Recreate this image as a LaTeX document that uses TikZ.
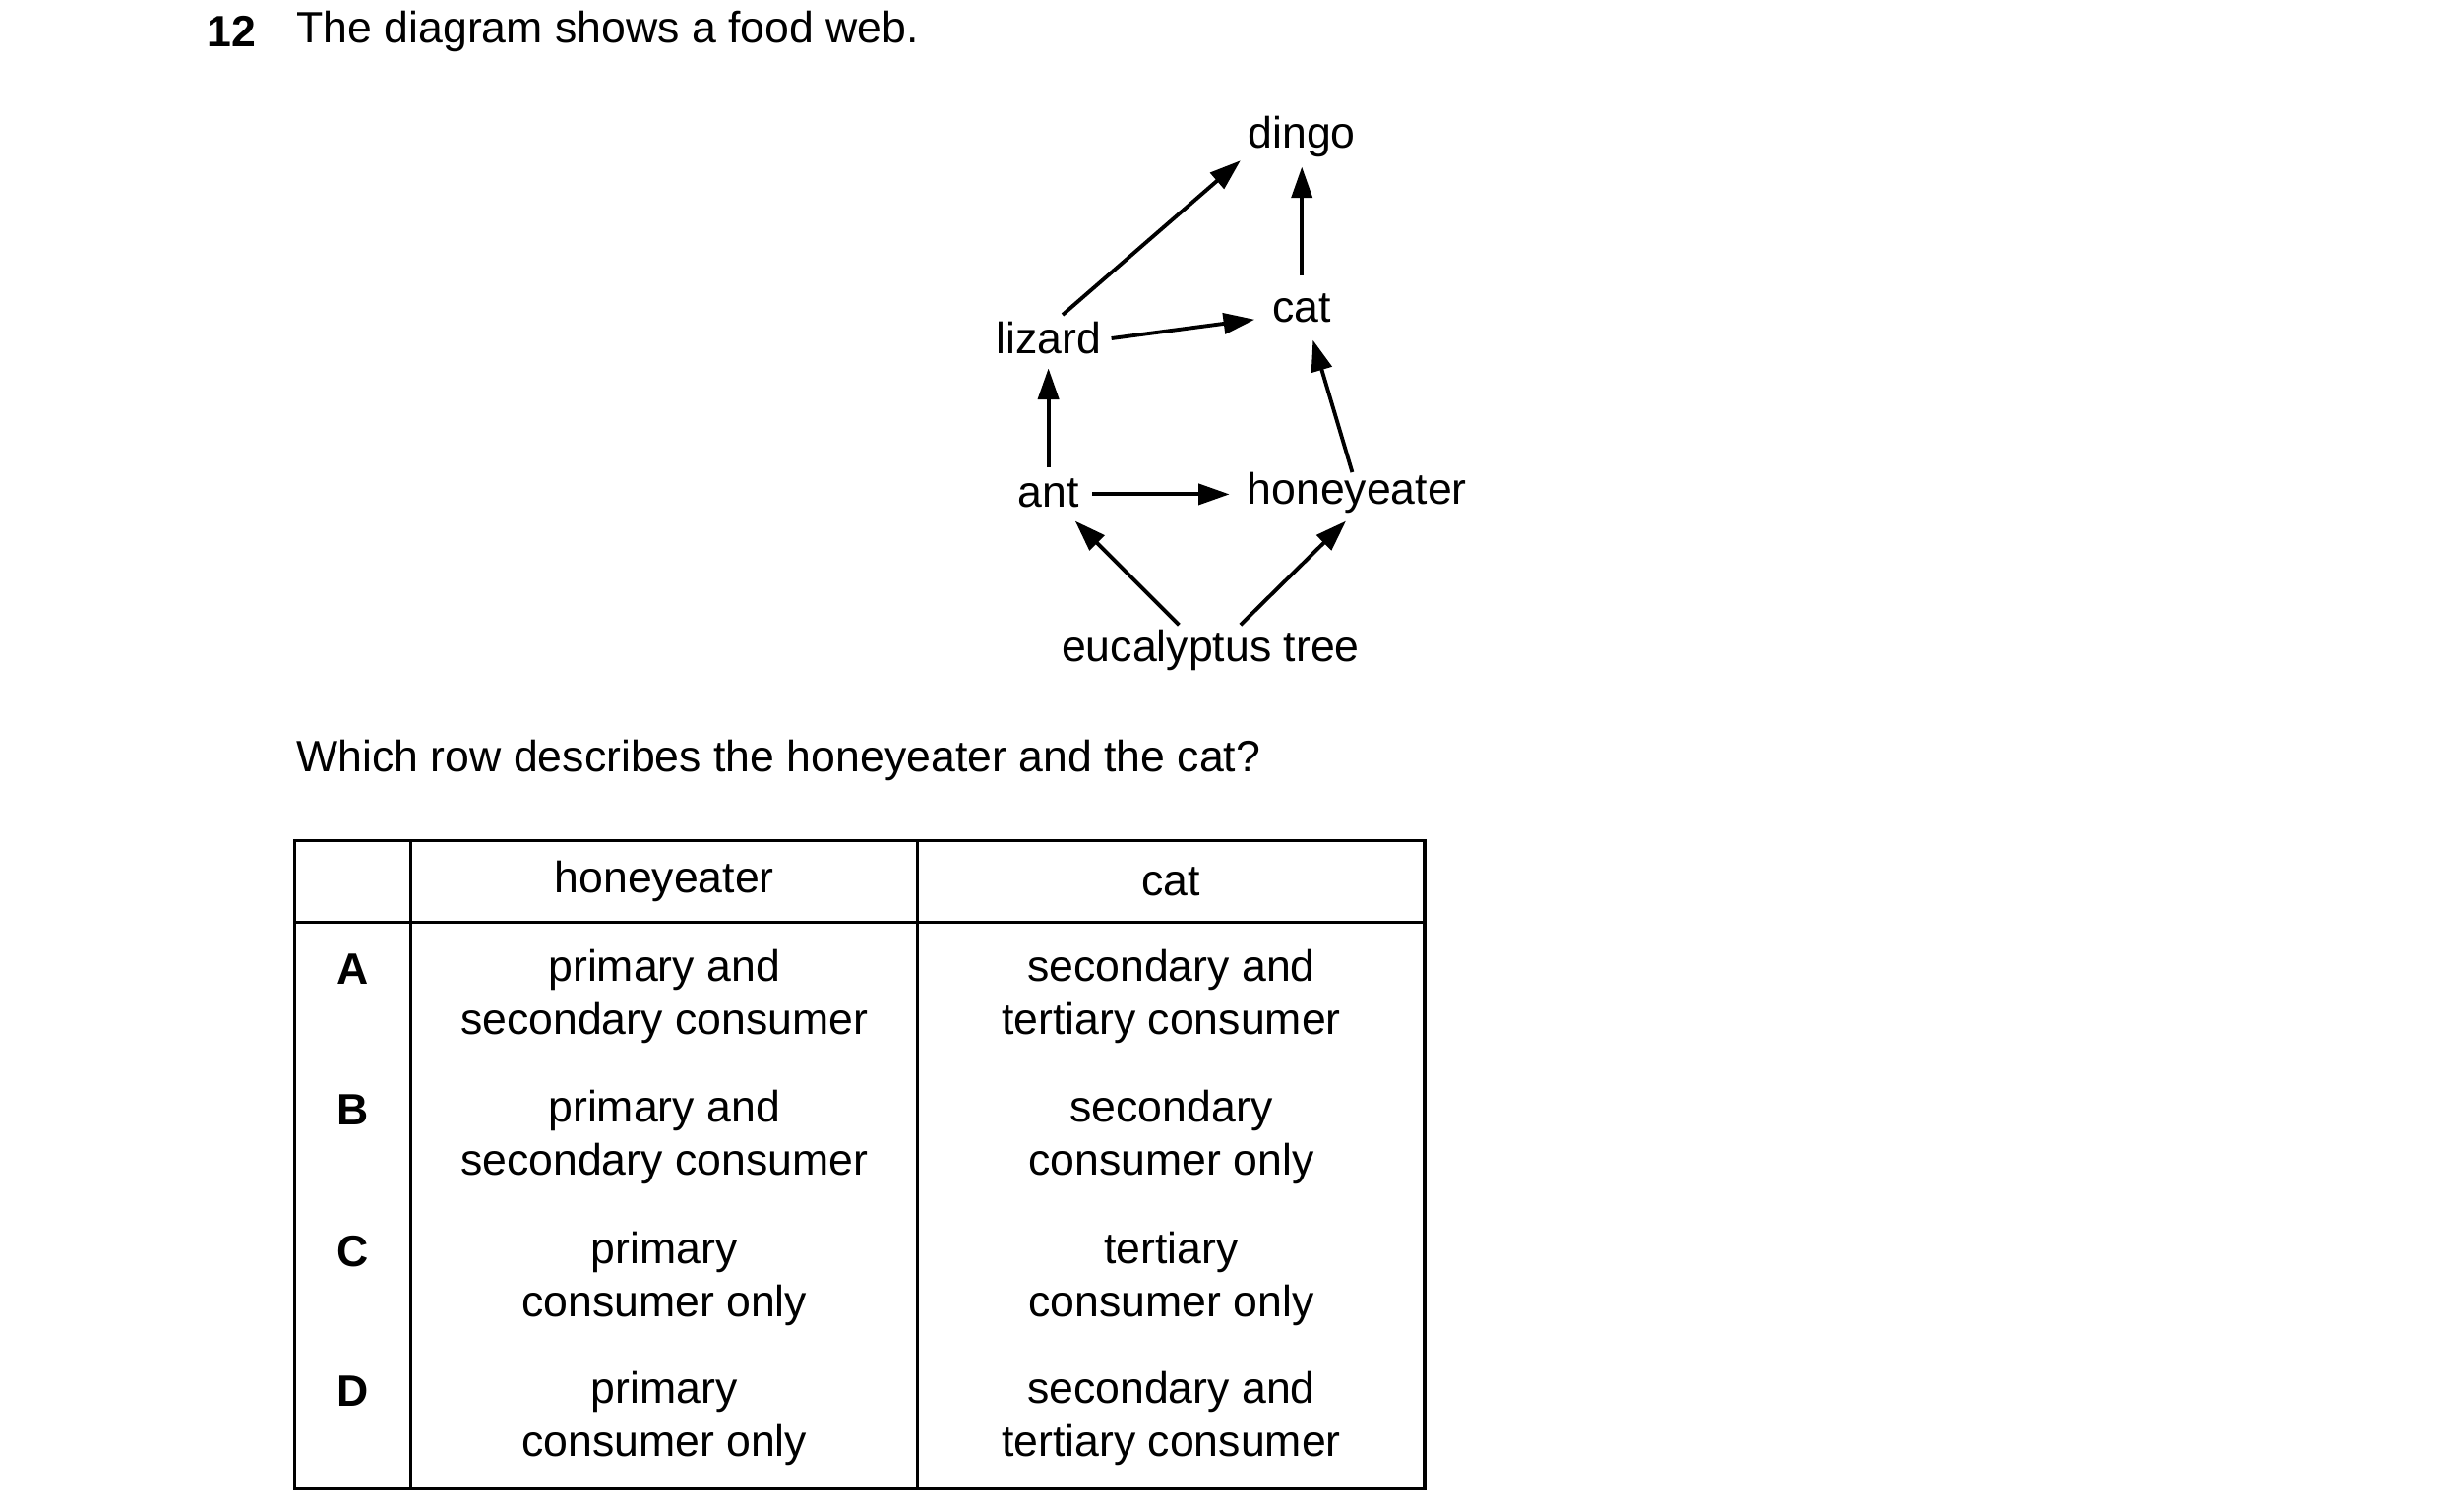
\documentclass[tikz,border=0pt]{standalone}
\usepackage{fontspec}
\setmainfont{Liberation Sans}
\usetikzlibrary{arrows.meta}
\begin{document}
\begin{tikzpicture}[x=0.016cm,y=-0.016cm,
  every node/.style={font=\fontsize{12.7}{15.4}\selectfont,inner sep=0pt},
  org/.style={anchor=center},
  arr/.style={line width=1.1pt,-{Triangle[length=9pt,width=6pt]}},
  cell/.style={align=center,anchor=center}]
\useasboundingbox (0,0) rectangle (1550,960.6);
\node[anchor=west,font=\fontsize{12.7}{15.4}\selectfont\bfseries] (num) at (131,20) {12};
\node[anchor=west] (title) at (188,20) {The diagram shows a food web.};
% food web
\node[org] (dingo) at (827,87) {dingo};
\node[org] (cat) at (827,196) {cat};
\node[org] (lizard) at (666,215) {lizard};
\node[org] (ant) at (666,313) {ant};
\node[org] (honey) at (862,313) {honeyeater};
\node[org] (euc) at (769,413) {eucalyptus tree};
\coordinate (a1) at (675,200); \coordinate (b1) at (788,102);
\coordinate (a2) at (827,175); \coordinate (b2) at (827,106);
\coordinate (a3) at (706,215); \coordinate (b3) at (797,203);
\coordinate (a4) at (666,297); \coordinate (b4) at (666,234);
\coordinate (a5) at (694,314); \coordinate (b5) at (781,314);
\coordinate (a6) at (859,300); \coordinate (b6) at (834,216);
\coordinate (a7) at (749,397); \coordinate (b7) at (683,331);
\coordinate (a8) at (788,397); \coordinate (b8) at (855,331);
\draw[arr] (a1) -- (b1);
\draw[arr] (a2) -- (b2);
\draw[arr] (a3) -- (b3);
\draw[arr] (a4) -- (b4);
\draw[arr] (a5) -- (b5);
\draw[arr] (a6) -- (b6);
\draw[arr] (a7) -- (b7);
\draw[arr] (a8) -- (b8);
\node[anchor=west] (q) at (188,483) {Which row describes the honeyeater and the cat?};
% table
\draw[line width=0.9pt] (187,534) rectangle (905,946);
\draw[line width=0.9pt] (261,534) -- (261,946);
\draw[line width=0.9pt] (583,534) -- (583,946);
\draw[line width=0.9pt] (187,586) -- (905,586);
\node[cell] (h1) at (422,560) {honeyeater};
\node[cell] (h2) at (744,560) {cat};
\foreach \y/\L/\p/\q in {616/A/{primary and\\secondary consumer}/{secondary and\\tertiary consumer},
  705/B/{primary and\\secondary consumer}/{secondary\\consumer only},
  795/C/{primary\\consumer only}/{tertiary\\consumer only},
  884/D/{primary\\consumer only}/{secondary and\\tertiary consumer}}{
  \node[cell,font=\fontsize{12.7}{15.4}\selectfont\bfseries] at (224,\y) {\L};
  \node[cell,anchor=north] at (422,\y-13) {\p};
  \node[cell,anchor=north] at (744,\y-13) {\q};
}
\end{tikzpicture}
\end{document}
